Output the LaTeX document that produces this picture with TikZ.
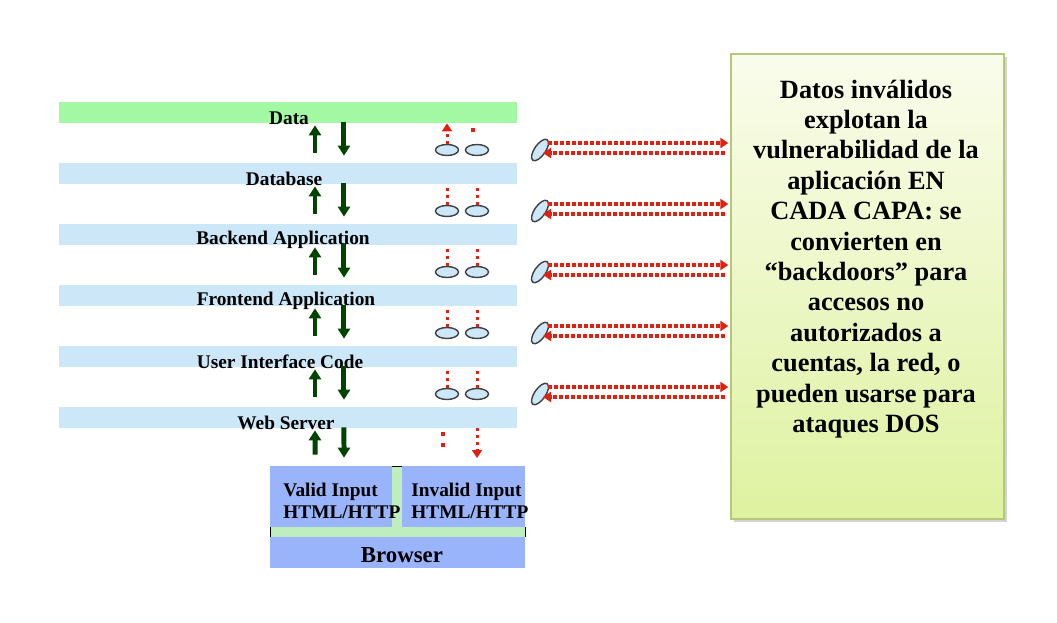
\documentclass[tikz,border=0pt]{standalone}
\usepackage{fontspec}
\setmainfont{Liberation Serif}
\usetikzlibrary{arrows.meta,shapes.geometric,shadows}
\definecolor{datagreen}{RGB}{163,249,163}
\definecolor{layerblue}{RGB}{204,232,248}
\definecolor{arrowgreen}{RGB}{0,68,0}
\definecolor{attackred}{RGB}{224,32,16}
\definecolor{inputblue}{RGB}{153,180,250}
\definecolor{stripgreen}{RGB}{190,238,190}
\definecolor{notetop}{RGB}{250,252,236}
\definecolor{notebottom}{RGB}{222,242,160}
\definecolor{noteborder}{RGB}{180,200,120}

\begin{document}
\begin{tikzpicture}[x=0.02cm,y=-0.02cm,
    layer/.style={fill=#1,minimum width=9.16cm,minimum height=0.42cm,inner sep=0pt},
    layerlabel/.style={font=\bfseries\fontsize{11}{12}\selectfont,inner sep=0pt},
    goodarrow/.style={arrowgreen,line width=0.1cm,-{Triangle[width=0.24cm,length=0.2cm]}},
    badline/.style={attackred,line width=0.06cm,dash pattern=on 0.06cm off 0.08cm},
    badarrow/.style={badline,-{Triangle[width=0.2cm,length=0.16cm]}},
    leakarrow/.style={attackred,line width=0.07cm,dash pattern=on 0.08cm off 0.04cm,-{Triangle[width=0.2cm,length=0.16cm]}},
    hole/.style={ellipse,draw=black!75,fill=layerblue,thick,minimum width=0.46cm,minimum height=0.22cm,inner sep=0pt},
    inputbox/.style={fill=inputblue,inner sep=0pt},
    inputlabel/.style={font=\bfseries\fontsize{11}{12.5}\selectfont,align=left,anchor=west,inner sep=0pt}]
    \useasboundingbox (0,0) rectangle (1057,622);

    % capas de la aplicacion
    \foreach \name/\lx/\col [count=\i] in {Data/289/datagreen, Database/284/layerblue,
        Backend Application/283/layerblue, Frontend Application/286/layerblue,
        User Interface Code/280/layerblue, Web Server/286/layerblue}{
        \node[layer=\col] (band\i) at (288,{112.5+61*(\i-1)}) {};
        \node[layerlabel] (label\i) at (\lx,{118+61*(\i-1)}) {\name};
    }

    % navegador
    \fill[stripgreen] (392,466) rectangle (402,527);
    \fill[stripgreen] (270,527) rectangle (525,537);
    \draw (392,466)--(402,466);
    \draw (270,527)--(270,537);
    \draw (525,527)--(525,537);
    \node[inputbox,minimum width=2.44cm,minimum height=1.22cm] (valid) at (331,496.5) {};
    \node[inputbox,minimum width=2.46cm,minimum height=1.22cm] (invalid) at (463.5,496.5) {};
    \node[inputbox,minimum width=5.1cm,minimum height=0.62cm] (browser) at (397.5,552.5) {};
    \node[font=\bfseries\fontsize{13}{14}\selectfont,inner sep=0pt] (browsertext) at (402,555) {Browser};
    \node[inputlabel] (validtext) at (283,501) {Valid Input\\HTML/HTTP};
    \node[inputlabel] (invalidtext) at (411,501) {Invalid Input\\HTML/HTTP};

    % nota
    \node[draw=noteborder,thick,top color=notetop,bottom color=notebottom,
        minimum width=5.46cm,minimum height=9.3cm,
        drop shadow={shadow xshift=0.06cm,shadow yshift=-0.06cm,opacity=0.35}] (note) at (867.5,286.5) {};
    \node[font=\bfseries\fontsize{15}{17.3}\selectfont,align=center] (notetext) at (866,259)
        {Datos inválidos\\explotan la\\vulnerabilidad de la\\aplicación EN\\CADA CAPA: se\\convierten en\\“backdoors” para\\accesos no\\autorizados a\\cuentas, la red, o\\pueden usarse para\\ataques DOS};

    % huecos entre capas
    \foreach \i [evaluate=\i as \j using int(\i+1)] in {1,...,5}{
        \node[hole] (holeL\i) at (447,{150+61*(\i-1)}) {};
        \node[hole] (holeR\i) at (477,{150+61*(\i-1)}) {};
        \draw[goodarrow] ([xshift=0.54cm,yshift=0.2cm]band\j.north) -- ([xshift=0.54cm,yshift=-0.04cm]band\i.south);
        \draw[goodarrow] ([xshift=1.12cm,yshift=0.02cm]band\i.south) -- ([xshift=1.12cm,yshift=0.14cm]band\j.north);
    }
    \foreach \i in {2,...,5}{
        \draw[badline] (holeL\i.north) -- (holeL\i.north |- band\i.south);
        \draw[badline] (holeR\i.north) -- (holeR\i.north |- band\i.south);
    }
    \draw[badarrow] (holeL1.north) -- (holeL1.north |- band1.south);
    \fill[attackred] (471,128) rectangle (475,132);

    % debajo del web server
    \draw[goodarrow] ([xshift=-0.32cm,yshift=0.22cm]valid.north) -- ([xshift=0.54cm,yshift=-0.04cm]band6.south);
    \draw[goodarrow] ([xshift=1.12cm,yshift=0.02cm]band6.south) -- ([xshift=0.26cm,yshift=0.16cm]valid.north);
    \fill[attackred] (441,432) rectangle (445,436);
    \fill[attackred] (441,443) rectangle (445,447);
    \coordinate (leak) at (477,458);
    \draw[badarrow] (leak |- band6.south) -- (leak);

    % ataques hacia la nota
    \foreach \i in {1,...,5}{
        \node[hole,rotate=55,minimum width=0.5cm] (tilt\i) at (540,{150+61*(\i-1)}) {};
        \coordinate (out\i) at ([xshift=0.16cm,yshift=0.14cm]tilt\i.center);
        \coordinate (back\i) at ([xshift=0.06cm,yshift=-0.06cm]tilt\i.center);
        \draw[leakarrow,shorten >=0.04cm] (out\i) -- (out\i -| note.west);
        \draw[leakarrow] ([xshift=-0.1cm]back\i -| note.west) -- (back\i);
    }
\end{tikzpicture}
\end{document}
